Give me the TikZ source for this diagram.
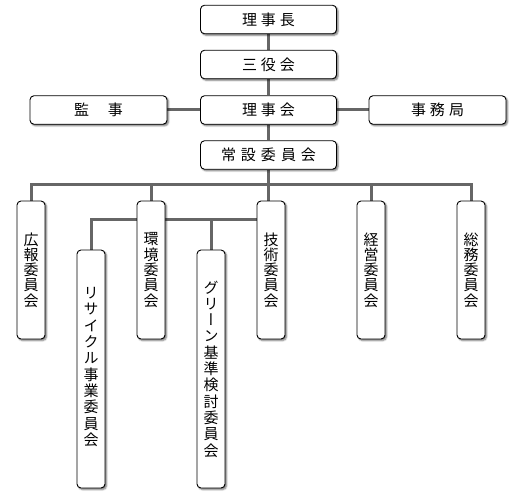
\documentclass[tikz,border=0pt]{standalone}
\usepackage{fontspec}
\newfontfamily\jp{Noto Sans CJK JP}
\newfontfamily\jpv[RawFeature=+vert]{Noto Sans CJK JP}
\usetikzlibrary{shadows.blur}
\pgfdeclarelayer{background}
\pgfsetlayers{background,main}
\tikzset{
  box/.style={draw=black, line width=0.9pt, fill=white, rounded corners=4pt,
    inner sep=0pt, blur shadow={shadow xshift=1.6pt, shadow yshift=-1.6pt,
    shadow blur radius=1.6pt, shadow opacity=55}},
  hbox/.style={box, minimum width=136pt, minimum height=28.5pt,
    font=\jp\fontsize{15}{15}\selectfont},
  vbox/.style={box, minimum width=28pt, align=center},
  vshort/.style={vbox, minimum height=138pt, font=\jpv\fontsize{15}{15.3}\selectfont},
  vlong/.style={vbox, minimum height=238pt, font=\jpv\fontsize{15}{16.3}\selectfont},
  conn/.style={draw=black!60, line width=3pt}
}
\newcommand{\ks}{\kern4pt}
\begin{document}
\begin{tikzpicture}[x=1pt,y=-1pt]
\useasboundingbox (0,0) rectangle (530,500);
\node[hbox] (chair) at (268.5,19.5) {理\ks 事\ks 長};
\node[hbox] (sanyaku) at (268.5,64.5) {三\ks 役\ks 会};
\node[hbox] (rijikai) at (268.5,110) {理\ks 事\ks 会};
\node[hbox, minimum width=137pt] (kanji) at (98.5,110) {監\kern19pt 事};
\node[hbox, minimum width=137pt] (jimu) at (437.5,110) {事\ks 務\ks 局};
\node[hbox] (jousetsu) at (268.5,155) {常\kern5pt 設\kern5pt 委\kern5pt 員\kern5pt 会};
\node[vshort] (kouhou) at (31,270) {広\\報\\委\\員\\会};
\node[vshort] (kankyou) at (151,270) {環\\境\\委\\員\\会};
\node[vshort] (gijutsu) at (271,270) {技\\術\\委\\員\\会};
\node[vshort] (keiei) at (371,270) {経\\営\\委\\員\\会};
\node[vshort] (soumu) at (471,270) {総\\務\\委\\員\\会};
\node[vlong] (recycle) at (91,369) {\\[-9pt]リ\\サ\\イ\\ク\\ル\\事\\業\\委\\員\\会};
\node[vlong] (green) at (211,369) {グ\\リ\\ー\\ン\\基\\準\\検\\討\\委\\員\\会};
\coordinate (b1) at (269.5,184);
\coordinate (b2) at (269.5,219);
\begin{pgfonlayer}{background}
\draw[conn] (chair.south) -- (sanyaku.north);
\draw[conn] (sanyaku.south) -- (rijikai.north);
\draw[conn] (kanji.east) -- (rijikai.west);
\draw[conn] (rijikai.east) -- (jimu.west);
\draw[conn] (rijikai.south) -- (jousetsu.north);
\draw[conn] (jousetsu.south) -- (jousetsu.south |- gijutsu.north);
\draw[conn] (kouhou.north) |- (b1) -| (soumu.north);
\draw[conn] (kankyou.north) -- (kankyou.north |- b1);
\draw[conn] (keiei.north) -- (keiei.north |- b1);
\draw[conn] (recycle.north) |- (b2);
\draw[conn] (green.north) -- (green.north |- b2);
\end{pgfonlayer}
\end{tikzpicture}
\end{document}
